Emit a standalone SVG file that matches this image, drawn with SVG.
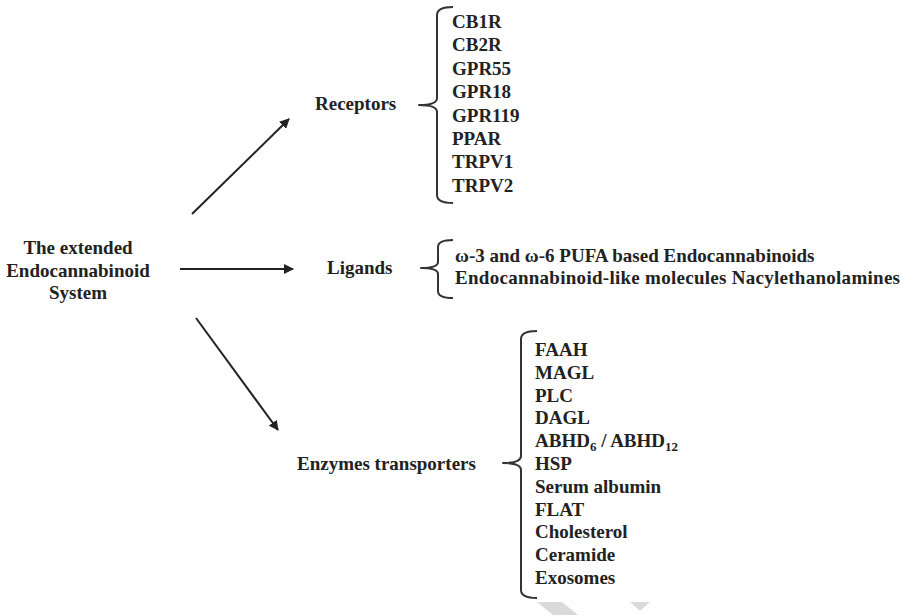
<svg xmlns="http://www.w3.org/2000/svg" width="901" height="615" viewBox="0 0 901 615">
<style>
  text { font-family: "Liberation Serif", "Times New Roman", serif; font-weight: bold; font-size: 19px; fill: #222; }
  .brace { fill: none; stroke: #333; stroke-width: 2; stroke-linejoin: round; }
  .conn { stroke: #222; stroke-width: 2; fill: none; }
  .sub { font-size: 13px; }
</style>
<defs>
  <marker id="ah" viewBox="0 0 10 10" refX="9" refY="5" markerWidth="5" markerHeight="5" orient="auto" markerUnits="strokeWidth">
    <path d="M0,0 L10,5 L0,10 z" fill="#222"/>
  </marker>
</defs>
<rect width="901" height="615" fill="#fff"/>
<g id="watermark" fill="#dadada">
  <polygon points="537,602 562,602 578,615 553,615"/>
  <polygon points="630,602 650,602 640,611"/>
</g>
<g id="connectors">
  <line class="conn" x1="192" y1="214" x2="289" y2="119" marker-end="url(#ah)"/>
  <line class="conn" x1="180" y1="269" x2="293" y2="269" marker-end="url(#ah)"/>
  <line class="conn" x1="196" y1="318" x2="278" y2="430" marker-end="url(#ah)"/>
</g>
<g id="system">
  <text x="78" y="254" text-anchor="middle">The extended</text>
  <text x="78" y="277" text-anchor="middle">Endocannabinoid</text>
  <text x="78" y="299" text-anchor="middle">System</text>
</g>
<g id="receptors">
  <text x="315" y="110">Receptors</text>
  <path class="brace" d="M453,7 Q437,7 437,15 L437,98 Q437,105 419,105 Q437,105 437,112 L437,195 Q437,203 453,203"/>
  <text x="452" y="28">CB1R</text>
  <text x="452" y="51">CB2R</text>
  <text x="452" y="75">GPR55</text>
  <text x="452" y="98">GPR18</text>
  <text x="452" y="122">GPR119</text>
  <text x="452" y="145">PPAR</text>
  <text x="452" y="168">TRPV1</text>
  <text x="452" y="192">TRPV2</text>
</g>
<g id="ligands">
  <text x="327" y="274">Ligands</text>
  <path class="brace" d="M453,240 Q438,240 438,247 L438,262 Q438,268 421,268 Q438,268 438,274 L438,291 Q438,298 453,298"/>
  <text x="455" y="262">ω-3 and ω-6 PUFA based Endocannabinoids</text>
  <text x="455" y="284" textLength="445" lengthAdjust="spacing">Endocannabinoid-like  molecules Nacylethanolamines</text>
</g>
<g id="enzymes">
  <text x="297" y="470">Enzymes transporters</text>
  <path class="brace" d="M537,331 Q521,331 521,339 L521,456 Q521,463 503,463 Q521,463 521,470 L521,590 Q521,598 537,598"/>
  <text x="535" y="356">FAAH</text>
  <text x="535" y="379">MAGL</text>
  <text x="535" y="402">PLC</text>
  <text x="535" y="424">DAGL</text>
  <text x="535" y="447">ABHD<tspan class="sub" dy="4">6</tspan><tspan dy="-4"> / ABHD</tspan><tspan class="sub" dy="4">12</tspan></text>
  <text x="535" y="470">HSP</text>
  <text x="535" y="493">Serum  albumin</text>
  <text x="535" y="516">FLAT</text>
  <text x="535" y="538">Cholesterol</text>
  <text x="535" y="561">Ceramide</text>
  <text x="535" y="584">Exosomes</text>
</g>
</svg>
